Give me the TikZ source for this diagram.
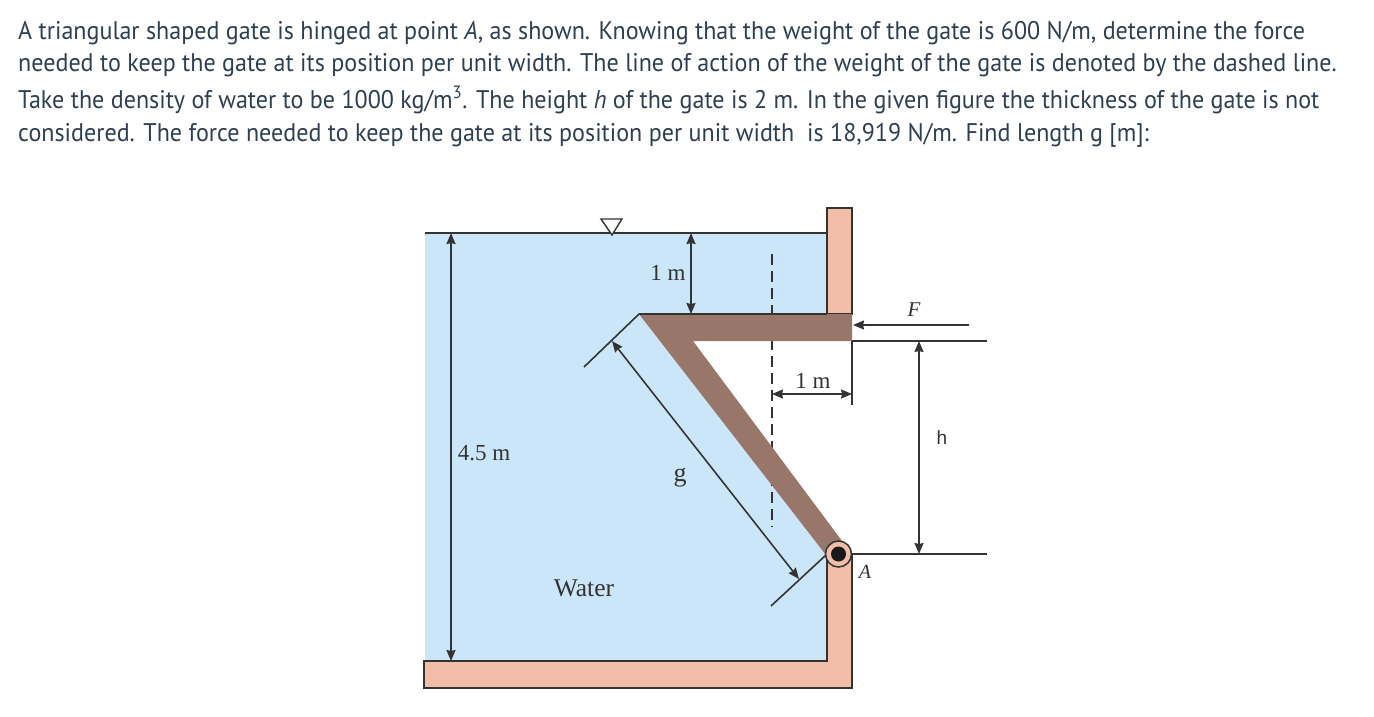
\documentclass[tikz,border=0pt]{standalone}
\usepackage{fontspec}
\setmainfont{Liberation Serif}
\newfontfamily\textfam[FakeStretch=0.944]{PT Sans}
\newfontfamily\labelsans{Liberation Sans}
\usetikzlibrary{arrows.meta}
\definecolor{waterc}{HTML}{CCE6F9}
\definecolor{wallc}{HTML}{F3BEA8}
\definecolor{gatec}{HTML}{98776A}
\definecolor{linec}{HTML}{333333}
\definecolor{textc}{HTML}{2F3F52}
\tikzset{
  x=1pt,y=-1pt,
  para/.style={anchor=base west,inner sep=0pt,text=textc,font=\textfam\fontsize{25.5}{28}\selectfont},
  lab/.style={inner sep=0pt,text=linec,font=\fontsize{23}{24}\selectfont},
  thin line/.style={draw=linec,line width=1.6pt},
  dim/.style={thin line,{Stealth[length=11pt,width=9pt,inset=1pt]}-{Stealth[length=11pt,width=9pt,inset=1pt]}},
  force/.style={thin line,-{Stealth[length=11pt,width=9pt,inset=1pt]}},
  wall/.style={fill=wallc,draw=linec,line width=1.7pt},
}
\begin{document}
\begin{tikzpicture}
\useasboundingbox[fill=white] (0,0) rectangle (1374,716);
% text
\node[para] (l1) at (18,39) {A triangular shaped gate is hinged at point \textit{A}, as shown. Knowing that the weight of the gate is 600 N/m, determine the force};
\node[para] (l2) at (18,71) {needed to keep the gate at its position per unit width. The line of action of the weight of the gate is denoted by the dashed line.};
\node[para] (l3) at (18,108) {Take the density of water to be 1000 kg/m\textsuperscript{3}. The height \textit{h} of the gate is 2 m. In the given figure the thickness of the gate is not};
\node[para] (l4) at (18,141) {considered. The force needed to keep the gate at its position per unit width\ \ is 18,919 N/m. Find length g [m]:};
% water
\fill[waterc] (425,233) rectangle (827,661);
% walls
\draw[wall] (827,208) rectangle (852,314);
\draw[wall] (827,554) -- (827,661) -- (424,661) -- (424,688) -- (852,688) -- (852,554);
% white interior behind the gate
\fill[white] (693,341) -- (827,341) -- (827,530) -- (842,541) -- cycle;
% water surface
\coordinate (sl) at (425,233); \coordinate (sr) at (827,233);
\draw[thin line] (sl) -- (sr);
\draw[draw=linec,line width=1.4pt,fill=white] (601,219) -- (622,219) -- (612,235) -- cycle;
% dashed line of action
\coordinate (d1) at (772,254); \coordinate (d2) at (772,527);
\draw[draw=linec,line width=1.3pt,dash pattern=on 11pt off 6pt] (d1) -- (d2);
% gate
\fill[gatec] (639,314) -- (852,314) -- (852,341) -- (693,341) -- (845,545) -- (826,555) -- cycle;
\coordinate (g0) at (639,314); \coordinate (g1) at (827,314);
\draw[thin line] (g0) -- (g1);
% hinge
\node[circle,minimum size=26pt,inner sep=0pt,fill=wallc,draw=linec,line width=1.5pt] (hinge) at (838.5,554) {};
\node[circle,minimum size=15pt,inner sep=0pt,fill=black!90] (pin) at (838.5,554) {};
% g dimension
\coordinate (e1a) at (584,367); \coordinate (e2a) at (771,606);
\coordinate (e2b) at (826,555);
\draw[thin line] (e1a) -- (g0);
\draw[thin line] (e2a) -- (e2b);
\coordinate (ga) at (612,341); \coordinate (gb) at (799,579);
\draw[dim] (ga) -- (gb);
% 4.5 m
\coordinate (a1) at (451,233); \coordinate (a2) at (451,661);
\draw[dim] (a1) -- (a2);
% upper 1 m
\coordinate (b1) at (691,233); \coordinate (b2) at (691,314);
\draw[dim] (b1) -- (b2);
% lower 1 m
\coordinate (w1) at (852,341); \coordinate (w2) at (852,405);
\draw[thin line] (w1) -- (w2);
\coordinate (c1) at (772,394); \coordinate (c2) at (852,394);
\draw[dim] (c1) -- (c2);
% right side
\coordinate (r1) at (987,341); \coordinate (r2) at (987,554);
\coordinate (r3) at (852,554);
\draw[thin line] (w1) -- (r1);
\draw[thin line] (r3) -- (r2);
\coordinate (h1) at (919,341); \coordinate (h2) at (919,554);
\draw[dim] (h1) -- (h2);
\coordinate (f1) at (969,325); \coordinate (f2) at (853,325);
\draw[force] (f1) -- (f2);
% labels
\node[lab] (t1) at (668,273) {1 m};
\node[lab] (t2) at (813,381) {1 m};
\node[lab] (t3) at (484,453) {4.5 m};
\node[lab,font=\fontsize{26}{28}\selectfont] (t4) at (680,478) {g};
\node[lab,font=\fontsize{25.5}{28}\selectfont] (t5) at (584,588) {Water};
\node[lab,font=\itshape\fontsize{21}{24}\selectfont] (t6) at (914,310) {F};
\node[lab,font=\itshape\fontsize{20}{24}\selectfont] (t7) at (865,572) {A};
\node[lab,font=\labelsans\fontsize{19}{24}\selectfont] (t8) at (942,438) {h};
\end{tikzpicture}
\end{document}
